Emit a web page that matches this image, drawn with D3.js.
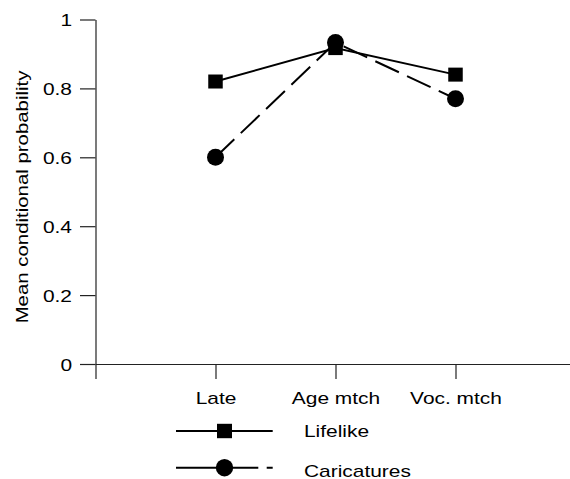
<!DOCTYPE html>
<html>
<head>
<meta charset="utf-8">
<script src="https://cdn.jsdelivr.net/npm/d3@7"></script>
<style>
  body { margin: 0; background: #fff; }
  svg text { font-family: "Liberation Sans", Arial, Helvetica, sans-serif; fill: #000; }
</style>
</head>
<body>
<script>
// values
const categories = ["Late", "Age mtch", "Voc. mtch"];
const lifelike = [0.82, 0.917, 0.84];
const caricatures = [0.6, 0.933, 0.77];
const yTicks = [0, 0.2, 0.4, 0.6, 0.8, 1];
const seriesNames = ["Lifelike", "Caricatures"];

/** Class drawing the two-series line chart */
class ProbChart {
    /**
     * Sets up svg and scales
     */
    constructor(width, height) {
        this.svg = d3.select("body").append("svg")
            .attr("width", width)
            .attr("height", height);
        this.svg.append("rect").attr("width", width).attr("height", height).attr("fill", "#fff");
        // text in the original is wide, stretch it horizontally
        this.stretch = 1.23;
        this.fontSize = 17;
        // slot 0 is the y axis, slots 1..3 are the categories
        this.x = d3.scaleLinear().domain([0, 4]).range([95.5, 575.5]);
        this.y = d3.scaleLinear().domain([0, 1]).range([364, 19.5]);
    }
    /**
     * Moves a text's x/y into a transform so it can be scaled sideways
     */
    widen(sel) {
        let s = this.stretch;
        sel.each(function () {
            let t = d3.select(this);
            let x = +t.attr("x") || 0, y = +t.attr("y") || 0;
            t.attr("x", 0).attr("y", 0)
                .attr("transform", `translate(${x},${y}) scale(${s},1)`);
        });
    }
    drawAxes() {
        let yAxis = d3.axisLeft(this.y)
            .tickValues(yTicks)
            .tickSize(15.5)
            .tickSizeOuter(0)
            .tickPadding(8)
            .tickFormat(d3.format("~g"));
        let xAxis = d3.axisBottom(this.x)
            .tickValues([0, 1, 2, 3])
            .tickSize(15)
            .tickSizeOuter(0)
            .tickFormat(i => i > 0 ? categories[i - 1] : "");

        let gx = this.svg.append("g")
            .attr("transform", `translate(0,${this.y(0)})`)
            .call(xAxis);
        let gy = this.svg.append("g")
            .attr("transform", `translate(${this.x(0)},0)`)
            .call(yAxis);

        for (let g of [gx, gy]) {
            g.selectAll("path, line").attr("stroke", "#222").attr("stroke-width", 1.2);
            g.selectAll("text")
                .attr("font-family", null)
                .style("font-size", this.fontSize + "px");
        }
        gy.selectAll("text").attr("dy", "0.36em");
        gx.selectAll("text").attr("y", 40).attr("dy", 0);
        this.widen(gy.selectAll("text"));
        this.widen(gx.selectAll("text"));

        this.svg.append("text")
            .attr("text-anchor", "middle")
            .style("font-size", this.fontSize + "px")
            .attr("transform", "translate(28,197) rotate(-90) scale(1.2,1)")
            .text("Mean conditional probability");
    }
    drawSeries() {
        let line = d3.line()
            .x((d, i) => this.x(i + 1))
            .y(d => this.y(d));

        this.svg.append("path")
            .datum(lifelike)
            .attr("d", line)
            .attr("fill", "none")
            .attr("stroke", "#000")
            .attr("stroke-width", 2);
        this.svg.append("path")
            .datum(caricatures)
            .attr("d", line)
            .attr("fill", "none")
            .attr("stroke", "#000")
            .attr("stroke-width", 2)
            .attr("stroke-dasharray", "26,9");

        this.svg.selectAll(".sq")
            .data(lifelike)
            .enter()
            .append("rect")
            .classed("sq", true)
            .attr("x", (d, i) => this.x(i + 1) - 7.25)
            .attr("y", d => this.y(d) - 7)
            .attr("width", 14.5)
            .attr("height", 14)
            .attr("fill", "#000");
        this.svg.selectAll(".dot")
            .data(caricatures)
            .enter()
            .append("circle")
            .classed("dot", true)
            .attr("cx", (d, i) => this.x(i + 1))
            .attr("cy", d => this.y(d))
            .attr("r", 8.5)
            .attr("fill", "#000");
    }
    drawLegend() {
        let lg = this.svg.append("g");
        // Lifelike
        lg.append("line")
            .attr("x1", 176).attr("x2", 272.7)
            .attr("y1", 431).attr("y2", 431)
            .attr("stroke", "#000").attr("stroke-width", 2);
        lg.append("rect")
            .attr("x", 224.5 - 7.5).attr("y", 431 - 7.2)
            .attr("width", 15).attr("height", 14.4)
            .attr("fill", "#000");
        // Caricatures
        lg.append("line")
            .attr("x1", 176).attr("x2", 272.7)
            .attr("y1", 467.7).attr("y2", 467.7)
            .attr("stroke", "#000").attr("stroke-width", 2)
            .attr("stroke-dasharray", "82.3,8.4,20");
        lg.append("circle")
            .attr("cx", 224.5).attr("cy", 467.7)
            .attr("r", 8.7)
            .attr("fill", "#000");

        let labels = lg.selectAll(".lgText")
            .data(seriesNames)
            .enter()
            .append("text")
            .classed("lgText", true)
            .attr("x", 304)
            .attr("y", (d, i) => i === 0 ? 437.3 : 477)
            .style("font-size", this.fontSize + "px")
            .text(d => d);
        this.widen(labels);
    }
}

let chart = new ProbChart(570, 479);
chart.drawAxes();
chart.drawSeries();
chart.drawLegend();
</script>
</body>
</html>
